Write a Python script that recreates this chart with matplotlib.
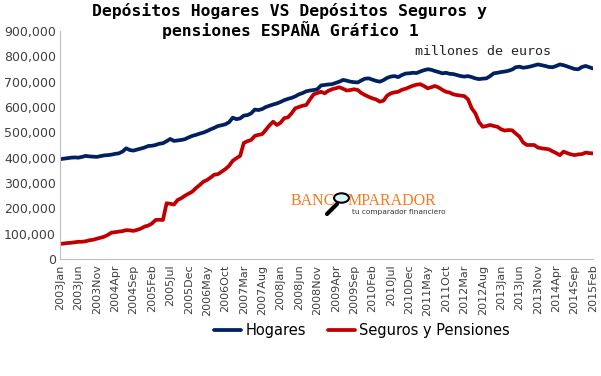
import numpy as np
import pandas as pd
import matplotlib
matplotlib.use("Agg")
import matplotlib.pyplot as plt
from matplotlib.patches import Circle
from matplotlib.lines import Line2D

# meses: 2003Jan .. 2015Feb
months = pd.date_range("2003-01-01", "2015-02-01", freq="MS")
month_labels = [d.strftime("%Y%b") for d in months]

# valores, en miles de millones de euros
hogares = [
    394, 396, 398, 400, 401, 400, 403, 407, 405, 404, 403, 406,
    409, 410, 412, 415, 417, 424, 437, 430, 428, 432, 436, 440,
    446, 447, 450, 455, 457, 465, 474, 466, 468, 470, 473, 480,
    486, 490, 495, 499, 505, 512, 518, 525, 528, 532, 540, 558,
    552, 555, 566, 568, 575, 590, 588, 592, 600, 605, 610, 614,
    620, 627, 632, 636, 642, 650, 655, 662, 665, 667, 670, 685,
    687, 689, 690, 695, 700, 707, 704, 700, 698, 697, 705, 712,
    713, 708, 703, 700, 706, 715, 720, 722, 718, 726, 732, 733,
    735, 734, 740, 745, 749, 747, 742, 738, 733, 735, 731, 730,
    726, 722, 720, 722, 718, 713, 710, 712, 713, 722, 733, 735,
    738, 740, 743, 748, 757, 759, 755, 757, 760, 764, 768, 765,
    762, 758, 757, 762, 768, 765, 760, 755, 750, 749, 758, 762,
    757, 752,
]
seguros = [
    60, 61, 63, 64, 66, 68, 68, 70, 74, 76, 80, 84,
    88, 95, 104, 106, 108, 110, 114, 113, 111, 115, 120, 128,
    132, 140, 154, 155, 154, 220, 218, 215, 233, 240, 250, 258,
    266, 280, 292, 305, 312, 322, 333, 335, 345, 355, 368, 388,
    398, 407, 458, 465, 470, 486, 490, 493, 510, 528, 542, 529,
    538, 556, 559, 575, 595, 600, 605, 608, 630, 650, 655, 660,
    654, 664, 670, 674, 678, 672, 665, 667, 670, 667, 655, 647,
    640, 634, 630, 621, 625, 645, 654, 658, 660, 668, 672, 678,
    684, 688, 690, 683, 674, 678, 683, 677, 668, 660, 657, 650,
    647, 645, 643, 630, 595, 575, 540, 522, 525, 529, 525, 522,
    512, 507, 509, 508, 495, 483, 460, 450, 450, 450, 440, 437,
    435, 433, 425, 418, 410, 424, 418, 413, 410, 413, 414, 420,
    418, 417,
]

hogares = np.array(hogares) * 1000
seguros = np.array(seguros) * 1000
x = np.arange(len(months))

fig = plt.figure(figsize=(6.01, 3.76), dpi=100)
ax = fig.add_axes([60 / 601, 1 - 259 / 376, 533 / 601, 228 / 376])

ax.plot(x, hogares, color="#002060", lw=2.7, label="Hogares", solid_capstyle="round")
ax.plot(x, seguros, color="#C00000", lw=2.7, label="Seguros y Pensiones", solid_capstyle="round")

ax.set_xlim(0, len(months) - 1)
ax.set_ylim(0, 900000)
ax.set_yticks(np.arange(0, 900001, 100000))
ax.yaxis.set_major_formatter(matplotlib.ticker.FuncFormatter(lambda v, p: f"{int(v):,}"))
ax.set_xticks(x[::5])
ax.set_xticklabels(month_labels[::5], rotation=90, fontsize=8, color="#404040")
ax.tick_params(axis="y", labelsize=9, colors="#404040", length=0, pad=3)
ax.tick_params(axis="x", length=0, pad=4)

for s in ["top", "right"]:
    ax.spines[s].set_visible(False)
ax.spines["left"].set_color("#BFBFBF")
ax.spines["bottom"].set_color("#BFBFBF")

# titulo (monoespaciado, negrita)
fig.text(290 / 601, 1 - 16 / 376, "Depósitos Hogares VS Depósitos Seguros y",
         family="DejaVu Sans Mono", weight="bold", fontsize=11.8, ha="center", va="baseline")
fig.text(290 / 601, 1 - 36 / 376, "pensiones ESPAÑA Gráfico 1",
         family="DejaVu Sans Mono", weight="bold", fontsize=11.8, ha="center", va="baseline")
fig.text(415 / 601, 1 - 55 / 376, "millones de euros", family="DejaVu Sans Mono",
         fontsize=9.6, color="#262626", ha="left", va="baseline")

# logo
orange = "#F47B20"
fig.text(335 / 601, 1 - 205 / 376, "BANC", family="Liberation Serif", fontsize=11.5,
         color=orange, ha="right", va="baseline")
fig.text(348 / 601, 1 - 205 / 376, "MPARADOR", family="Liberation Serif", fontsize=11.5,
         color=orange, ha="left", va="baseline")
fig.text(352 / 601, 1 - 214 / 376, "tu comparador financiero", fontsize=5.3,
         color="#333333", ha="left", va="baseline")
fig.add_artist(Line2D([327 / 601, 337 / 601], [1 - 214 / 376, 1 - 204 / 376],
                      color="black", lw=3, solid_capstyle="round"))
fig.add_artist(Circle((341.5 / 601, 1 - 198 / 376), 7.5 / 601, transform=fig.transFigure,
                      facecolor="#DDF3FA", edgecolor="black", lw=1.5))

leg = fig.legend(loc="center", bbox_to_anchor=(362 / 601, 1 - 331 / 376), ncol=2,
                 frameon=False, fontsize=10.5, handlelength=1.85, handletextpad=0.3,
                 columnspacing=1.5)

fig.savefig("out.png", dpi=100)
